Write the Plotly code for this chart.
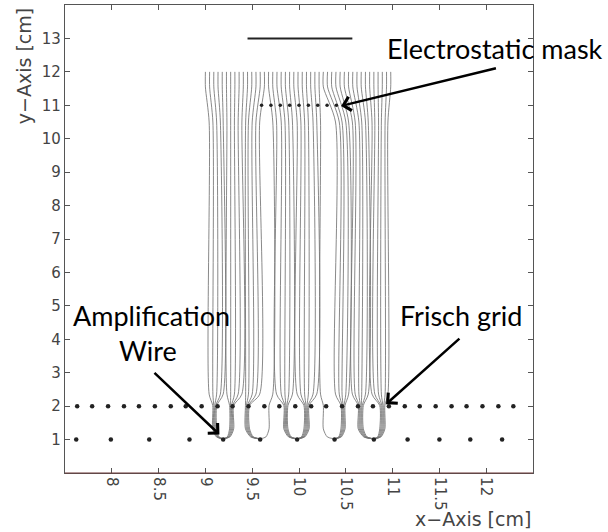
import plotly.graph_objects as go

# ---------------- data ----------------
cathode_x = [9.45, 10.57]
cathode_y = [13.0, 13.0]

mask_x = [9.60, 9.70, 9.80, 9.90, 10.00, 10.10, 10.20, 10.30, 10.40]
mask_y = 11.0

grid_x = [7.63, 7.79, 7.96, 8.13, 8.29, 8.46, 8.63, 8.79, 8.96, 9.13, 9.29, 9.46,
          9.63, 9.79, 9.96, 10.13, 10.29, 10.46, 10.63, 10.79, 10.96, 11.13, 11.29,
          11.46, 11.63, 11.79, 11.96, 12.13, 12.29]
grid_y = 2.0

anode_x = [7.62, 7.99, 8.40, 8.83, 9.19, 9.585, 9.98, 10.38, 10.80, 11.16, 11.50,
           11.83, 12.17]
anode_y = 1.0

# field lines: x at the top (y=12), x along the long straight part,
# and the index of the U-arm (above an amplification wire) where they end
line_top_x = [9.00, 9.045, 9.09, 9.135, 9.18, 9.225, 9.27, 9.315, 9.36, 9.405, 9.45,
              9.495, 9.54, 9.585, 9.63,
              9.675, 9.72, 9.765, 9.81, 9.855, 9.90, 9.945, 9.99, 10.035, 10.08,
              10.125, 10.17, 10.215,
              10.26, 10.305, 10.35, 10.395, 10.44, 10.485, 10.53, 10.575, 10.62,
              10.665, 10.71, 10.755, 10.80, 10.845, 10.89, 10.935, 10.98]
line_mid_x = [9.04, 9.08, 9.12, 9.16, 9.19, 9.23, 9.27, 9.31, 9.35, 9.39, 9.43, 9.46,
              9.50, 9.54, 9.58,
              9.72, 9.76, 9.81, 9.85, 9.89, 9.93, 9.98, 10.02, 10.06, 10.10, 10.15,
              10.19, 10.23,
              10.39, 10.43, 10.46, 10.50, 10.53, 10.57, 10.60, 10.64, 10.67, 10.71,
              10.74, 10.78, 10.81, 10.85, 10.88, 10.92, 10.95]
line_arm = [0, 0, 0, 0, 0, 1, 1, 1, 1, 1, 2, 2, 2, 2, 2,
            3, 4, 4, 4, 4, 4, 5, 5, 5, 5, 5, 5, 6,
            7, 7, 7, 7, 7, 8, 8, 8, 8, 8, 8, 9, 9, 9, 9, 9, 9]
arm_x = [9.10, 9.28, 9.45, 9.68, 9.86, 10.08, 10.26, 10.47, 10.66, 10.89]
arm_anode = [4, 4, 5, 5, 6, 6, 7, 7, 8, 8]

x_ticks = [8, 8.5, 9, 9.5, 10, 10.5, 11, 11.5, 12]
x_ticktext = ["8", "8.5", "9", "9.5", "10", "10.5", "11", "11.5", "12"]
y_ticks = list(range(1, 14))

# ---------------- figure ----------------
fig = go.Figure()

LINE_COL = "#747474"
arm_counts = [line_arm.count(a) for a in range(len(arm_x))]
arm_seen = [0] * len(arm_x)

for xt, xm, a in zip(line_top_x, line_mid_x, line_arm):
    j = arm_seen[a]
    arm_seen[a] += 1
    n = arm_counts[a]
    xa_line = arm_x[a] + (j - (n - 1) / 2) * 0.011
    xw = anode_x[arm_anode[a]]
    xs = [xt, xt, xm, xm, xa_line, xa_line, xa_line + 0.35 * (xw - xa_line), xw]
    ys = [12.0, 11.55, 10.5, 2.36, 2.02, 1.32, 1.08, 1.02]
    fig.add_trace(go.Scatter(x=xs, y=ys, mode="lines",
                             line=dict(color=LINE_COL, width=0.85, shape="spline", smoothing=0.7),
                             hoverinfo="skip"))

fig.add_trace(go.Scatter(x=cathode_x, y=cathode_y, mode="lines",
                         line=dict(color="#222222", width=2)))
fig.add_trace(go.Scatter(x=mask_x, y=[mask_y] * len(mask_x), mode="markers",
                         marker=dict(color="#222222", size=3.5)))
fig.add_trace(go.Scatter(x=grid_x, y=[grid_y] * len(grid_x), mode="markers",
                         marker=dict(color="#222222", size=4.5)))
fig.add_trace(go.Scatter(x=anode_x, y=[anode_y] * len(anode_x), mode="markers",
                         marker=dict(color="#222222", size=4.5)))

TXT = dict(family="Lato, Noto Sans, sans-serif", size=27, color="black")
fig.add_annotation(x=12.09, y=12.69, text="Electrostatic mask", showarrow=False,
                   font=TXT, xanchor="center", yanchor="middle")
fig.add_annotation(x=8.42, y=4.72, text="Amplification", showarrow=False,
                   font=TXT, xanchor="center", yanchor="middle")
fig.add_annotation(x=8.39, y=3.67, text="Wire", showarrow=False,
                   font=TXT, xanchor="center", yanchor="middle")
fig.add_annotation(x=11.73, y=4.72, text="Frisch grid", showarrow=False,
                   font=TXT, xanchor="center", yanchor="middle")

ARW = dict(showarrow=True, arrowhead=4, arrowsize=1.1, arrowwidth=2.5,
           arrowcolor="black", axref="x", ayref="y", text="", standoff=0)
fig.add_annotation(x=10.45, y=10.98, ax=12.12, ay=12.12, **ARW)
fig.add_annotation(x=9.15, y=1.15, ax=8.44, ay=3.04, **ARW)
fig.add_annotation(x=10.93, y=2.06, ax=11.73, ay=4.06, **ARW)

AX_FONT = dict(family="DejaVu Sans, sans-serif", size=19, color="#444444")
fig.add_annotation(xref="paper", yref="paper", x=1.0, y=-0.098, text="x−Axis [cm]",
                   showarrow=False, xanchor="right", yanchor="middle", font=AX_FONT)
fig.add_annotation(xref="paper", yref="paper", x=-0.089, y=0.87, text="y−Axis [cm]",
                   showarrow=False, textangle=-90, xanchor="center", yanchor="middle",
                   font=AX_FONT)

fig.add_shape(type="line", xref="paper", yref="paper", x0=0, x1=1, y0=0, y1=0,
              line=dict(color="#6e3b3b", width=1.2))

TICK_FONT = dict(family="DejaVu Sans, sans-serif", size=15, color="#444444")
fig.update_xaxes(range=[7.5, 12.5], tickvals=x_ticks, ticktext=x_ticktext, tickangle=90,
                 ticks="inside", ticklen=5, tickcolor="#555555", mirror="ticks",
                 showline=True, linecolor="#555555", linewidth=1.2, showgrid=False,
                 zeroline=False, tickfont=TICK_FONT)
fig.update_yaxes(range=[0, 14], tickvals=y_ticks, ticks="inside", ticklen=5,
                 tickcolor="#555555", mirror="ticks", showline=True, linecolor="#555555",
                 linewidth=1.2, showgrid=False, zeroline=False, tickfont=TICK_FONT)

fig.update_layout(width=608, height=532, margin=dict(l=65, r=75, t=5, b=59),
                  plot_bgcolor="white", paper_bgcolor="white", showlegend=False)

fig.write_html("out.html", config={"displayModeBar": False},
               post_script="document.body.style.margin='0';document.body.style.padding='0';")
